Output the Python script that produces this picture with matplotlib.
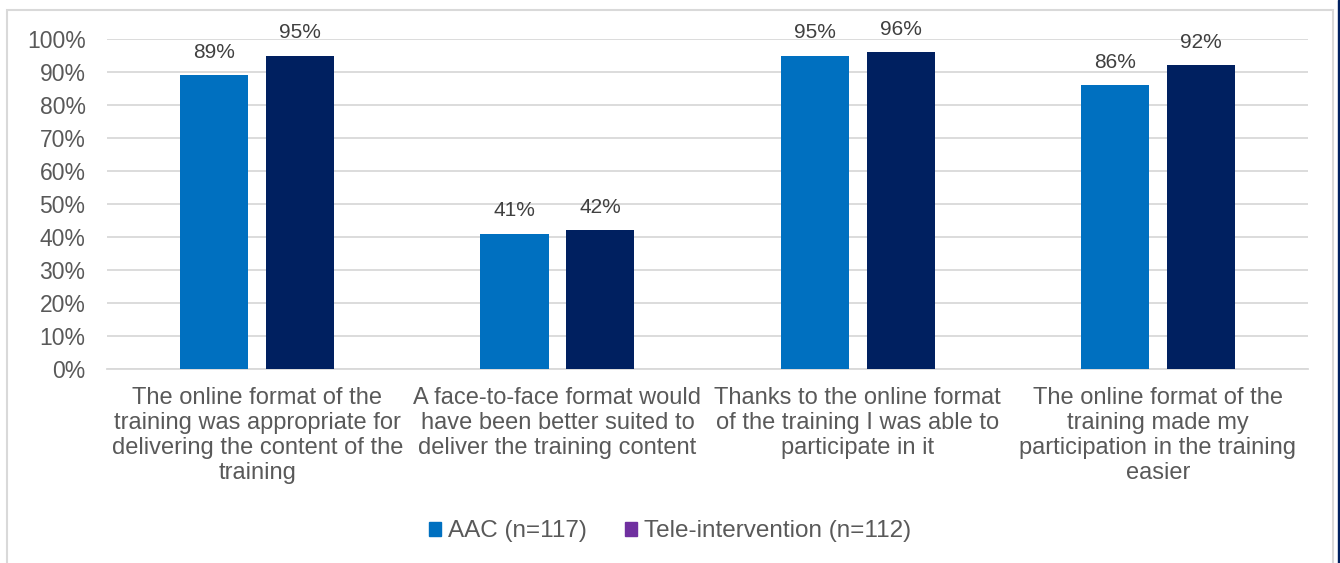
import numpy as np
import matplotlib.pyplot as plt
from matplotlib.patches import Rectangle

plt.rcParams['font.family'] = ['Liberation Sans', 'DejaVu Sans']

categories = [
    "The online format of the\ntraining was appropriate for\ndelivering the content of the\ntraining",
    "A face-to-face format would\nhave been better suited to\ndeliver the training content",
    "Thanks to the online format\nof the training I was able to\nparticipate in it",
    "The online format of the\ntraining made my\nparticipation in the training\neasier",
]
aac = [89, 41, 95, 86]
tele = [95, 42, 96, 92]
series_names = ["AAC (n=117)", "Tele-intervention (n=112)"]

c_aac = '#0070C0'
c_tele = '#002060'
c_tele_legend = '#7030A0'
txt = '#595959'

fig = plt.figure(figsize=(13.4, 5.63), dpi=100)
ax = fig.add_axes([0.0799, 0.3446, 0.8963, 0.5861])

x = np.arange(len(categories))
w = 0.227
off = 0.143
ax.bar(x - off, np.array(aac) / 100, w, color=c_aac, zorder=3)
ax.bar(x + off, np.array(tele) / 100, w, color=c_tele, zorder=3)

for xi, v in zip(x, aac):
    ax.annotate(f"{v}%", (xi - off, v / 100), xytext=(0, 12.5), textcoords='offset points',
                ha='center', va='baseline', fontsize=15, color='#404040')
for xi, v in zip(x, tele):
    ax.annotate(f"{v}%", (xi + off, v / 100), xytext=(0, 12.5), textcoords='offset points',
                ha='center', va='baseline', fontsize=15, color='#404040')

ax.set_xlim(-0.5, len(categories) - 0.5)
ax.set_ylim(0, 1)
ax.set_yticks(np.arange(0, 1.01, 0.1))
ax.set_yticklabels([f"{int(round(t * 100))}%" for t in np.arange(0, 1.01, 0.1)])
ax.yaxis.grid(True, color='#D9D9D9', linewidth=1.3, zorder=0)
ax.set_axisbelow(True)
for s in ['top', 'right', 'left']:
    ax.spines[s].set_visible(False)
ax.spines['bottom'].set_color('#D9D9D9')
ax.spines['bottom'].set_linewidth(1.3)
ax.tick_params(axis='both', length=0, colors=txt)
ax.tick_params(axis='y', pad=15.5, labelsize=16.5)
ax.set_xticks(x)
ax.set_xticklabels(categories, fontsize=17, color=txt, linespacing=1.18)
ax.tick_params(axis='x', pad=13)

handles = [Rectangle((0, 0), 1, 1, color=c_aac), Rectangle((0, 0), 1, 1, color=c_tele_legend)]
fig.legend(handles, series_names, loc='center', bbox_to_anchor=(0.5, 0.056), ncol=2,
           frameon=False, fontsize=17.5, labelcolor=txt, handlelength=0.5, handleheight=0.5,
           handletextpad=0.25, columnspacing=1.6)

# chart border and right edge strip
fig.patches.append(Rectangle((7 / 1340, -0.1), (1333 - 7) / 1340, 1.1 - 10 / 563, transform=fig.transFigure,
                             fill=False, edgecolor='#D9D9D9', linewidth=1.5))
fig.patches.append(Rectangle((1338 / 1340, 0), 2 / 1340, 1, transform=fig.transFigure,
                             color=c_tele))

fig.savefig('out.png', dpi=100)
